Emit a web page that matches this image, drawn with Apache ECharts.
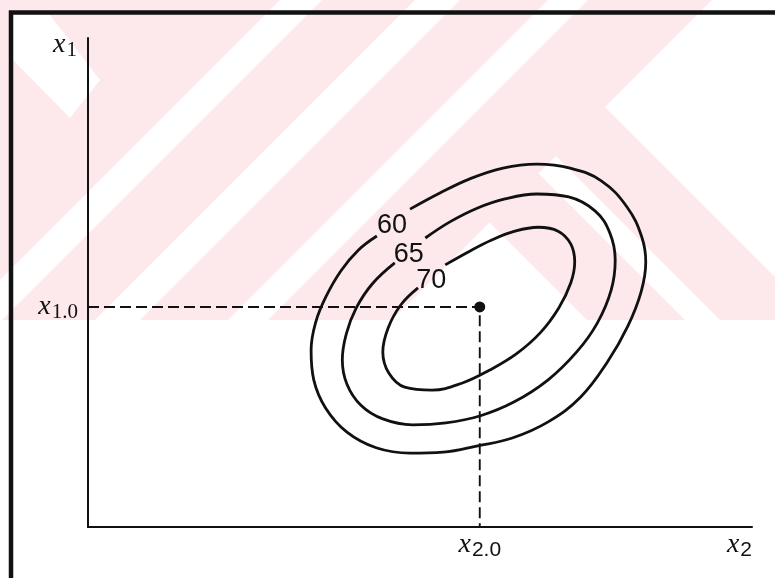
<!DOCTYPE html>
<html>
<head>
<meta charset="utf-8">
<script src="https://cdn.jsdelivr.net/npm/echarts@6/dist/echarts.min.js"></script>
<style>
  html, body { margin: 0; padding: 0; background: #ffffff; }
  #chart { width: 775px; height: 578px; }
</style>
</head>
<body>
<div id="chart"></div>
<script>
// Contour levels of the fitted response surface
const levels = [60, 65, 70];

// Traced contour paths in (x2, x1) units; each path is left open where its level label sits
const contour60 = [
  [4.85, 6.50], [5.30, 6.83], [5.75, 7.12], [6.25, 7.34], [6.76, 7.42], [7.26, 7.34],
  [7.73, 7.08], [8.12, 6.54], [8.34, 5.93], [8.40, 5.42], [8.33, 4.81], [8.13, 4.11],
  [7.82, 3.37], [7.42, 2.66], [6.93, 2.15], [6.39, 1.82], [5.87, 1.66], [5.35, 1.53],
  [4.85, 1.51], [4.34, 1.62], [3.90, 1.94], [3.58, 2.43], [3.40, 3.01], [3.36, 3.62],
  [3.43, 4.19], [3.58, 4.70], [3.81, 5.24], [4.07, 5.66], [4.35, 5.95]
];
const contour65 = [
  [5.08, 5.91], [5.45, 6.24], [5.86, 6.52], [6.28, 6.71], [6.76, 6.81], [7.24, 6.75],
  [7.64, 6.46], [7.86, 6.01], [7.94, 5.46], [7.88, 4.85], [7.67, 4.17], [7.36, 3.58],
  [6.93, 3.01], [6.42, 2.56], [5.90, 2.27], [5.39, 2.13], [4.89, 2.09], [4.44, 2.21],
  [4.11, 2.49], [3.90, 2.92], [3.83, 3.42], [3.89, 3.95], [4.04, 4.48], [4.28, 4.97],
  [4.62, 5.40]
];
const contour70 = [
  [5.38, 5.36], [5.72, 5.62], [6.08, 5.87], [6.43, 6.05], [6.78, 6.13], [7.08, 6.05],
  [7.27, 5.79], [7.33, 5.42], [7.27, 4.99], [7.09, 4.48], [6.81, 3.97], [6.45, 3.54],
  [6.05, 3.21], [5.63, 2.94], [5.18, 2.80], [4.77, 2.86], [4.53, 3.15], [4.44, 3.58],
  [4.52, 4.07], [4.71, 4.54], [4.97, 4.89]
];
const contours = [contour60, contour65, contour70];

// Where each level value is written on its contour
const levelLabelAt = [[4.58, 6.16], [4.83, 5.58], [5.17, 5.05]];

// Stationary point (x2.0, x1.0)
const x20 = 5.9;
const x10 = 4.5;

// Axis ranges
const xRange = [0, 10];
const yRange = [0, 10];

const INK = '#111111';
const PINK = '#fde8ec';

// ---- decorative diagonal stripe pattern behind the upper part of the figure ----
function clipPoly(pts, x0, y0, x1, y1) {
  const inside = [
    p => p[0] >= x0, p => p[0] <= x1, p => p[1] >= y0, p => p[1] <= y1
  ];
  const cut = [
    (a, b) => [x0, a[1] + (b[1] - a[1]) * (x0 - a[0]) / (b[0] - a[0])],
    (a, b) => [x1, a[1] + (b[1] - a[1]) * (x1 - a[0]) / (b[0] - a[0])],
    (a, b) => [a[0] + (b[0] - a[0]) * (y0 - a[1]) / (b[1] - a[1]), y0],
    (a, b) => [a[0] + (b[0] - a[0]) * (y1 - a[1]) / (b[1] - a[1]), y1]
  ];
  let out = pts;
  for (let k = 0; k < 4; k++) {
    const inp = out; out = [];
    for (let i = 0; i < inp.length; i++) {
      const cur = inp[i], prev = inp[(i + inp.length - 1) % inp.length];
      const ci = inside[k](cur), pi = inside[k](prev);
      if (ci) { if (!pi) out.push(cut[k](prev, cur)); out.push(cur); }
      else if (pi) out.push(cut[k](prev, cur));
    }
    if (!out.length) break;
  }
  return out;
}
const stripeBottom = 320;
// rising light stripe between x + y = s1 and x + y = s2
const rising = (s1, s2) => [[s1, 0], [s2, 0], [s2 - stripeBottom, stripeBottom], [s1 - stripeBottom, stripeBottom]];
const whiteShapes = [
  rising(280, 322),
  rising(415, 460),
  rising(548, 588),
  // small wedge in the top-left corner
  [[13, 15], [50, 15], [100, 80], [70, 118], [13, 60]],
  // chevron opening to the right
  [[605, 107], [712, 0], [775, 0], [775, 277]],
  // thin falling stripe
  [[556, 156], [720, 320], [685, 320], [538.5, 173.5]],
  // light wedge under the level labels
  [[489.5, 222.5], [587, 320], [392, 320]]
];
const stripeGraphics = [{
  type: 'rect', z: -10, silent: true,
  shape: { x: 0, y: 0, width: 775, height: stripeBottom },
  style: { fill: PINK }
}].concat(whiteShapes.map(s => ({
  type: 'polygon', z: -9, silent: true,
  shape: { points: clipPoly(s, 0, 0, 775, stripeBottom) },
  style: { fill: '#ffffff' }
})));

// ---- rich text styles for the axis symbols ----
const richSerif = {
  v: { fontFamily: 'Liberation Serif', fontStyle: 'italic', fontSize: 28, color: INK,
       lineHeight: 28, verticalAlign: 'top' },
  s: { fontFamily: 'Liberation Serif', fontSize: 21, color: INK, lineHeight: 20,
       verticalAlign: 'top', padding: [9, 0, 0, 1] }
};
const richSans = {
  v: { fontFamily: 'Liberation Serif', fontStyle: 'italic', fontSize: 28, color: INK,
       lineHeight: 28, verticalAlign: 'top' },
  s: { fontFamily: 'Liberation Sans', fontSize: 21, color: INK, lineHeight: 20,
       verticalAlign: 'top', padding: [9, 0, 0, 1] }
};

const contourSeries = contours.map((pts, i) => ({
  type: 'line',
  name: String(levels[i]),
  data: pts,
  smooth: 0.4,
  symbol: 'none',
  silent: true,
  lineStyle: { color: INK, width: 2.8 },
  z: 3
}));

const option = {
  backgroundColor: '#ffffff',
  animation: false,
  grid: { left: 88, right: 23, top: 38, bottom: 51, containLabel: false, outerBoundsMode: 'none' },
  xAxis: {
    type: 'value', min: xRange[0], max: xRange[1],
    axisLine: { show: true, onZero: false, lineStyle: { color: INK, width: 2 } },
    axisTick: { show: false },
    splitLine: { show: false },
    axisLabel: {
      customValues: [x20], margin: 4, verticalAlign: 'top',
      formatter: () => '{v|x}{s|2.0}', rich: richSans
    },
    name: '{v|x}{s|2}',
    nameLocation: 'end', nameGap: 0,
    nameTextStyle: { align: 'right', verticalAlign: 'top', padding: [4, 0, 0, 0], rich: richSans }
  },
  yAxis: {
    type: 'value', min: yRange[0], max: yRange[1],
    axisLine: { show: true, onZero: false, lineStyle: { color: INK, width: 2 } },
    axisTick: { show: false },
    splitLine: { show: false },
    axisLabel: {
      customValues: [x10], margin: 10,
      formatter: () => '{v|x}{s|1.0}', rich: richSerif
    },
    name: '{v|x}{s|1}',
    nameLocation: 'end', nameGap: 7,
    nameTextStyle: { align: 'right', verticalAlign: 'top', padding: [0, 11, 0, 0], rich: richSerif }
  },
  graphic: stripeGraphics.concat([{
    type: 'polyline', z: 50, silent: true,
    shape: { points: [[11, 578], [11, 12.5], [775, 12.5]] },
    style: { stroke: INK, lineWidth: 4.5, fill: null }
  }]),
  series: contourSeries.concat([
    {
      type: 'line',
      data: [[xRange[0], x10], [x20, x10], [x20, yRange[0]]],
      symbol: 'none', silent: true,
      lineStyle: { color: INK, width: 1.9, type: [11, 5] },
      z: 2
    },
    {
      type: 'scatter',
      data: [[x20, x10]],
      symbol: 'circle', symbolSize: 11, silent: true,
      itemStyle: { color: INK, opacity: 1 },
      z: 4
    },
    {
      type: 'scatter',
      data: levelLabelAt.map((p, i) => [p[0], p[1], levels[i]]),
      symbol: 'circle', symbolSize: 1, silent: true,
      itemStyle: { color: 'rgba(0,0,0,0)', opacity: 1 },
      label: {
        show: true, position: 'inside',
        formatter: p => String(p.value[2]),
        fontFamily: 'Liberation Sans', fontSize: 27, color: INK,
        textBorderWidth: 0
      },
      z: 5
    }
  ])
};

const chart = echarts.init(document.getElementById('chart'), null, { renderer: 'canvas' });
chart.setOption(option);
</script>
</body>
</html>
